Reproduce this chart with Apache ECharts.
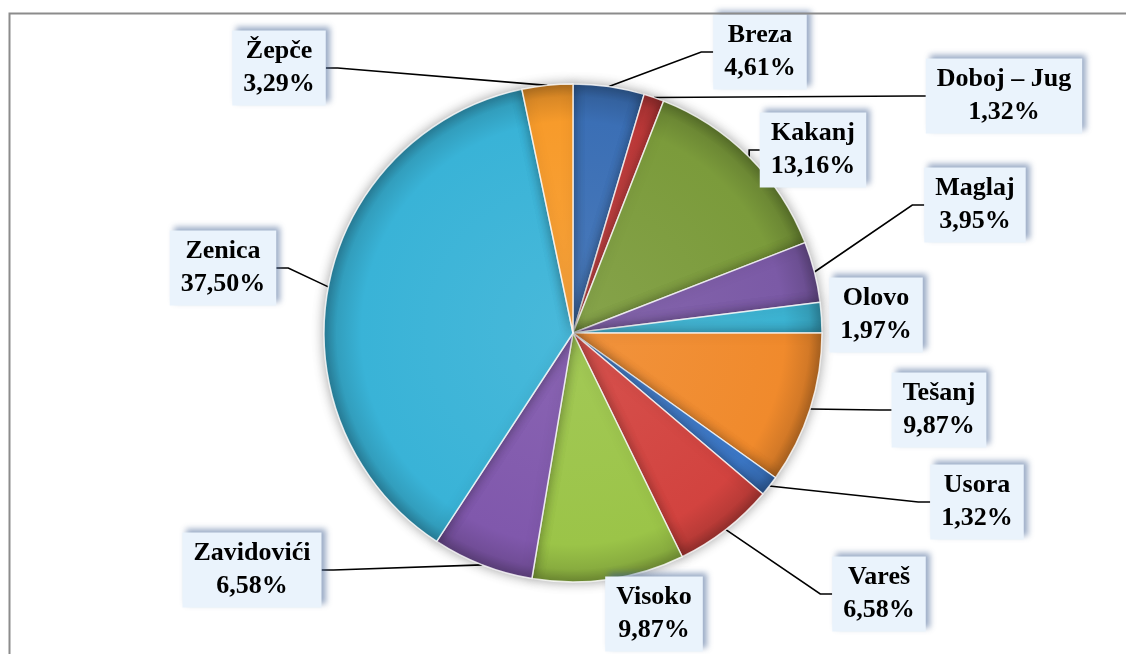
<!DOCTYPE html>
<html>
<head>
<meta charset="utf-8">
<script src="https://cdn.jsdelivr.net/npm/echarts@6/dist/echarts.min.js"></script>
<style>
html,body{margin:0;padding:0;background:#fff;}
#chart{width:1126px;height:654px;}
</style>
</head>
<body>
<div id="chart"></div>
<script>
// ---- data ----
const categories = ['Breza','Doboj – Jug','Kakanj','Maglaj','Olovo','Tešanj','Usora','Vareš','Visoko','Zavidovići','Zenica','Žepče'];
const shares = [4.61, 1.32, 13.16, 3.95, 1.97, 9.87, 1.32, 6.58, 9.87, 6.58, 37.50, 3.29];

// ---- style ----
const colors = ['#3b6fb5','#c03a3a','#7b9b3b','#7b5aa6','#3cb3d2','#f08a2c','#3c78c8','#d2433f','#9bc448','#8058ac','#39b3d7','#f79b2b'];
// label box centres (layout only)
const labelPos = [[760,52],[1004,96],[813,150],[975,205],[876,315],[939,410],[977,502],[879,594],[654,614],[252,570],[223,268],[279,68]];
const noLine = ['Olovo','Visoko'];

const CX = 573, CY = 333, R = 249;

function shade(hex, f){
  const n = parseInt(hex.slice(1),16);
  let r=(n>>16)&255, g=(n>>8)&255, b=n&255;
  if (f < 0){ r=r*(1+f); g=g*(1+f); b=b*(1+f); }
  else { r=r+(255-r)*f; g=g+(255-g)*f; b=b+(255-b)*f; }
  return 'rgb('+Math.round(r)+','+Math.round(g)+','+Math.round(b)+')';
}

const data = categories.map((name,i)=>({
  name: name,
  value: shares[i],
  labelLine: {show: noLine.indexOf(name) < 0},
  itemStyle: {
    color: {
      type:'radial', x: CX, y: CY, r: R, global: true,
      colorStops: [
        {offset:0, color: shade(colors[i], 0.08)},
        {offset:0.85, color: colors[i]},
        {offset:0.95, color: shade(colors[i], -0.12)},
        {offset:1, color: shade(colors[i], -0.3)}
      ]
    }
  }
}));

const chart = echarts.init(document.getElementById('chart'));
chart.setOption({
  animation: false,
  backgroundColor: '#ffffff',
  graphic: [{
    type: 'rect', left: 7, top: 11, silent: true,
    shape: {x:0, y:0, width: 1200, height: 700},
    style: {fill: 'none', stroke: '#8c8c8c', lineWidth: 2},
    z: 100
  }],
  series: [{
    type: 'pie',
    center: [CX, CY],
    radius: R,
    startAngle: 90,
    clockwise: true,
    avoidLabelOverlap: false,
    data: data,
    itemStyle: {
      borderColor: 'rgba(255,255,255,0.8)',
      borderWidth: 1.5,
      shadowBlur: 12,
      shadowColor: 'rgba(0,0,0,0.35)'
    },
    label: {
      show: true,
      position: 'outside',
      formatter: p => p.name + '\n' + p.value.toFixed(2).replace('.', ',') + '%',
      fontFamily: '"Liberation Serif", "DejaVu Serif", serif',
      fontWeight: 'bold',
      fontSize: 26,
      lineHeight: 33,
      color: '#000',
      align: 'center',
      backgroundColor: '#eaf3fc',
      padding: [5, 11, 4, 11],
      shadowColor: 'rgba(70,100,150,0.55)',
      shadowBlur: 6,
      shadowOffsetX: 4,
      shadowOffsetY: -4
    },
    labelLine: {
      show: true,
      length: 10,
      length2: 12,
      lineStyle: {color: '#000', width: 1.6}
    },
    labelLayout: function(params){
      const p = labelPos[params.dataIndex];
      return {x: p[0], y: p[1], align: 'center', verticalAlign: 'middle'};
    }
  }]
});
</script>
</body>
</html>
